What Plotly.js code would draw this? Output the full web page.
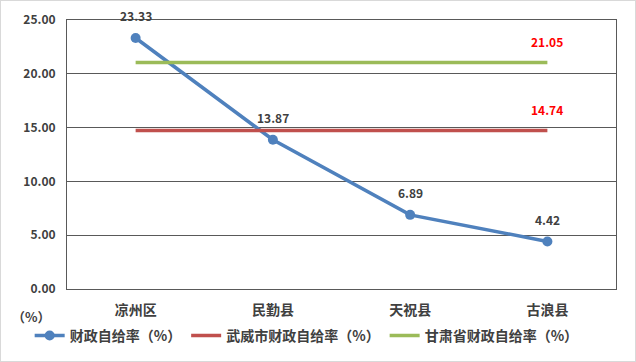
<!DOCTYPE html>
<html>
<head>
<meta charset="utf-8">
<script src="https://cdn.plot.ly/plotly-3.0.1.min.js"></script>
<style>
html,body{margin:0;padding:0;background:#fff;}
#chart{width:636px;height:362px;box-sizing:border-box;border:1px solid #d9d9d9;}
</style>
</head>
<body>
<div id="chart"></div>
<script>
const categories = ['凉州区', '民勤县', '天祝县', '古浪县'];
const countyRate = [23.33, 13.87, 6.89, 4.42];
const cityRate = [14.74, 14.74, 14.74, 14.74];
const provinceRate = [21.05, 21.05, 21.05, 21.05];
const seriesNames = ['财政自给率（%）', '武威市财政自给率（%）', '甘肃省财政自给率（%）'];
const yTicks = [0, 5, 10, 15, 20, 25];

const FONT = '"Noto Sans CJK SC", "Microsoft YaHei", sans-serif';
const TXT = '#404040';

const traces = [
  {x: categories, y: countyRate, name: seriesNames[0], type: 'scatter', mode: 'lines+markers',
   line: {color: '#4F81BD', width: 3.5}, marker: {color: '#4F81BD', size: 10}},
  {x: categories, y: cityRate, name: seriesNames[1], type: 'scatter', mode: 'lines',
   line: {color: '#C0504D', width: 3.5}},
  {x: categories, y: provinceRate, name: seriesNames[2], type: 'scatter', mode: 'lines',
   line: {color: '#9BBB59', width: 3.5}}
];

const annotations = [];
categories.forEach((c, i) => {
  annotations.push({x: c, y: countyRate[i], xref: 'x', yref: 'y', text: countyRate[i].toFixed(2),
    showarrow: false, yshift: 22, font: {family: FONT, size: 12, color: TXT, weight: 'bold'}});
});
const last = categories.length - 1;
annotations.push({x: categories[last], y: cityRate[last], xref: 'x', yref: 'y', text: cityRate[last].toFixed(2),
  showarrow: false, yshift: 21, font: {family: FONT, size: 12, color: '#FF0000', weight: 'bold'}});
annotations.push({x: categories[last], y: provinceRate[last], xref: 'x', yref: 'y', text: provinceRate[last].toFixed(2),
  showarrow: false, yshift: 21, font: {family: FONT, size: 12, color: '#FF0000', weight: 'bold'}});
annotations.push({x: (30 - 66) / 549, y: (289 - 317) / 270, xref: 'paper', yref: 'paper', text: '（%）',
  showarrow: false, xanchor: 'center', yanchor: 'middle',
  font: {family: FONT, size: 13, color: TXT, weight: 'bold'}});

const layout = {
  width: 636, height: 362,
  margin: {l: 66, r: 21, t: 19, b: 73},
  paper_bgcolor: 'rgba(0,0,0,0)', plot_bgcolor: '#fff',
  showlegend: true,
  legend: {orientation: 'h', x: -0.068, y: -0.17, xanchor: 'left', yanchor: 'middle',
    font: {family: FONT, size: 14, color: TXT, weight: 'bold'}, tracegroupgap: 0, itemwidth: 30},
  xaxis: {type: 'category', range: [-0.5, 3.5], showgrid: false, showline: true, mirror: true,
    linecolor: '#595959', linewidth: 1, ticks: '', ticklabelstandoff: 8,
    tickfont: {family: FONT, size: 14, color: TXT, weight: 'bold'}, fixedrange: true},
  yaxis: {range: [0, 25], tickvals: yTicks, ticktext: yTicks.map(v => v.toFixed(2)),
    showgrid: true, gridcolor: '#595959', gridwidth: 1, showline: true, mirror: true,
    linecolor: '#595959', linewidth: 1, ticks: '', zeroline: false, ticklabelstandoff: 8,
    tickfont: {family: FONT, size: 12, color: TXT, weight: 'bold'}, fixedrange: true},
  annotations: annotations
};

Plotly.newPlot('chart', traces, layout, {displayModeBar: false, staticPlot: true});
</script>
</body>
</html>
